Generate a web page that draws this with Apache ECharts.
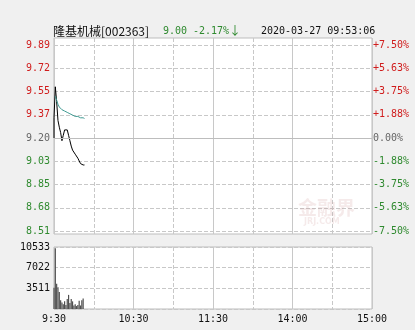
<!DOCTYPE html>
<html>
<head>
<meta charset="utf-8">
<script src="https://cdn.jsdelivr.net/npm/echarts@6/dist/echarts.min.js"></script>
<style>
html,body{margin:0;padding:0;background:#f0f0f0;}
#c{width:415px;height:330px;}
</style>
</head>
<body>
<div id="c"></div>
<script>
const prevClose = 9.20;
const priceMinutes = [0, 0, 1, 2, 3, 4, 5, 6, 7, 8, 9, 10, 11, 12, 13, 14, 15, 16, 17, 18, 19, 20, 21, 22, 23];
const prices = [9.20, 9.35, 9.58, 9.47, 9.33, 9.28, 9.24, 9.18, 9.22, 9.26, 9.26, 9.26, 9.22, 9.18, 9.14, 9.11, 9.10, 9.08, 9.07, 9.05, 9.03, 9.01, 9.00, 9.00, 9.00];
const avgMinutes = [1, 2, 3, 4, 5, 6, 7, 8, 9, 10, 11, 12, 13, 14, 15, 16, 17, 18, 19, 20, 21, 22, 23];
const avgPrices = [9.51, 9.48, 9.45, 9.43, 9.42, 9.41, 9.41, 9.40, 9.40, 9.39, 9.39, 9.38, 9.38, 9.37, 9.37, 9.36, 9.36, 9.36, 9.355, 9.35, 9.35, 9.35, 9.345];
const volMinutes = [0, 1, 2, 3, 4, 5, 6, 7, 8, 9, 10, 11, 12, 13, 14, 15, 16, 17, 18, 19, 20, 21, 22];
const volumes = [3600, 10300, 4300, 3700, 2900, 1500, 1100, 800, 1300, 700, 1700, 2400, 1000, 1700, 1300, 600, 800, 500, 700, 1400, 600, 1500, 1800];
const priceTicks = ['8.51', '8.68', '8.85', '9.03', '9.20', '9.37', '9.55', '9.72', '9.89'];
const pctTicks = ['-7.50%', '-5.63%', '-3.75%', '-1.88%', '0.00%', '+1.88%', '+3.75%', '+5.63%', '+7.50%'];
const volTicks = ['', '3511', '7022', '10533'];
const timeTicks = ['9:30', '10:30', '11:30', '14:00', '15:00'];
const volMax = 10533;

const RED = '#d01c1c', GREEN = '#2f8a2f', GRAY = '#666666';
const MONO = '"DejaVu Sans Mono", monospace';
const pct = p => (p / prevClose - 1) * 100;
const tickIndex = v => Math.round((Number(v) + 7.5) / 1.875);
function tickColor(v) {
  const i = tickIndex(v);
  return i > 4 ? RED : (i < 4 ? GREEN : GRAY);
}
const split = (type) => ({show: true, lineStyle: {color: '#c8c8c8', type: type, width: 1}});
const hide = {axisLine: {show: false}, axisTick: {show: false}};

const chart = echarts.init(document.getElementById('c'), null, {renderer: 'canvas'});
chart.setOption({
  backgroundColor: '#f0f0f0',
  animation: false,
  grid: [
    {left: 54, top: 38, width: 318, height: 196, show: true, backgroundColor: '#ffffff', borderColor: '#bdbdbd', borderWidth: 1},
    {left: 54, top: 45, width: 318, height: 186},
    {left: 54, top: 247, width: 318, height: 62, show: true, backgroundColor: '#ffffff', borderColor: '#bdbdbd', borderWidth: 1}
  ],
  xAxis: [
    Object.assign({gridIndex: 0, type: 'value', min: 0, max: 240, interval: 30, axisLabel: {show: false}, splitLine: split('dashed')}, hide),
    Object.assign({gridIndex: 0, type: 'value', min: 0, max: 240, interval: 60, axisLabel: {show: false}, splitLine: split('solid')}, hide),
    Object.assign({gridIndex: 1, type: 'value', min: 0, max: 240, axisLabel: {show: false}, splitLine: {show: false}}, hide),
    Object.assign({gridIndex: 2, type: 'value', min: 0, max: 240, interval: 30, axisLabel: {show: false}, splitLine: split('dashed')}, hide),
    Object.assign({gridIndex: 2, type: 'value', min: 0, max: 240, interval: 60, position: 'bottom', splitLine: split('solid'),
      axisLabel: {show: true, margin: 5, showMinLabel: true, showMaxLabel: true, color: '#111', fontFamily: MONO, fontSize: 10,
        formatter: v => timeTicks[Math.round(v / 60)]}}, hide)
  ],
  yAxis: [
    Object.assign({gridIndex: 0, type: 'value', min: 0, max: 1, axisLabel: {show: false}, splitLine: {show: false}}, hide),
    Object.assign({gridIndex: 1, type: 'value', position: 'left', min: -7.5, max: 7.5, interval: 1.875, splitLine: split('dashed'),
      axisLabel: {margin: 4, fontFamily: MONO, fontSize: 10, color: tickColor,
        formatter: v => priceTicks[tickIndex(v)]}}, hide),
    Object.assign({gridIndex: 1, type: 'value', position: 'right', min: -7.5, max: 7.5, interval: 1.875, splitLine: {show: false},
      axisLabel: {margin: 1, fontFamily: MONO, fontSize: 10, color: tickColor,
        formatter: v => pctTicks[tickIndex(v)]}}, hide),
    Object.assign({gridIndex: 2, type: 'value', min: 0, max: volMax, interval: volMax / 3, splitLine: split('dashed'),
      axisLabel: {margin: 4, fontFamily: MONO, fontSize: 10, color: '#111',
        formatter: v => volTicks[Math.round(v / (volMax / 3))]}}, hide)
  ],
  graphic: [
    {type: 'text', left: 53, top: 25, style: {text: '隆基机械[002363]', font: '12px "Noto Sans CJK SC", "DejaVu Sans Mono"', fill: '#111'}},
    {type: 'text', left: 163, top: 26, style: {text: '9.00', font: '10px ' + MONO, fill: GREEN}},
    {type: 'text', left: 193, top: 26, style: {text: '-2.17%', font: '10px ' + MONO, fill: GREEN}},
    {type: 'text', left: 229, top: 24, style: {text: '↓', font: '12px "Noto Sans CJK SC"', fill: GREEN}},
    {type: 'text', left: 261, top: 26, style: {text: '2020-03-27 09:53:06', font: '10px ' + MONO, fill: '#111'}},
    {type: 'text', left: 298, top: 198, z: 1, style: {text: '金融界', font: 'bold 19px "Noto Sans CJK SC"', fill: 'rgba(200,140,140,0.18)'}},
    {type: 'text', left: 304, top: 218, z: 1, style: {text: 'JRJ.COM', font: 'bold 8px "DejaVu Sans"', fill: 'rgba(200,140,140,0.18)'}}
  ],
  series: [
    {type: 'line', xAxisIndex: 2, yAxisIndex: 1, symbol: 'none', silent: true,
      lineStyle: {color: '#000', width: 1},
      data: priceMinutes.map((m, i) => [m, pct(prices[i])]),
      markLine: {silent: true, symbol: 'none', label: {show: false}, lineStyle: {color: '#bdbdbd', type: 'solid', width: 1},
        data: [{yAxis: 0}]}},
    {type: 'line', xAxisIndex: 2, yAxisIndex: 1, symbol: 'none', silent: true,
      lineStyle: {color: '#3f9a92', width: 1},
      data: avgMinutes.map((m, i) => [m, pct(avgPrices[i])])},
    {type: 'bar', xAxisIndex: 4, yAxisIndex: 3, barWidth: 1.2, silent: true,
      itemStyle: {color: '#505050'},
      data: volMinutes.map((m, i) => [m, volumes[i]])}
  ]
});
</script>
</body>
</html>
